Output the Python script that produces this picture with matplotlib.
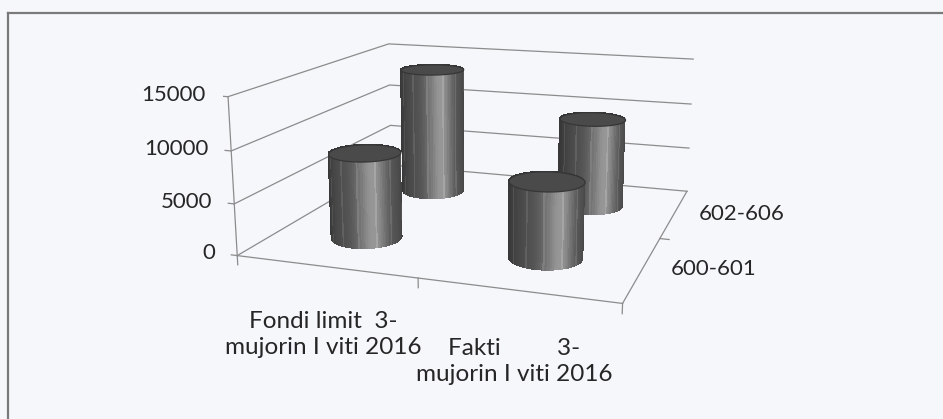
import numpy as np
import matplotlib
matplotlib.use('Agg')
import matplotlib.pyplot as plt
from matplotlib.lines import Line2D
from mpl_toolkits.mplot3d import proj3d
from mpl_toolkits.mplot3d.art3d import Poly3DCollection

W, H = 943, 419
categories = ["Fondi limit  3-\nmujorin I viti 2016", "Fakti         3-\nmujorin I viti 2016"]
series_names = ["600-601", "602-606"]
values_600_601 = [8500, 7300]
values_602_606 = [13800, 9500]
z_ticks = [0, 5000, 10000, 15000]

# view settings (3D perspective)
ELEV, AZIM, FOC = 13.72, -71.06, 0.389
BY, BZ = 0.976, 0.414
POS = [0.2366, 0.0215, 0.5382, 1.2113]

n_cat = len(categories)
n_ser = len(series_names)
XL = (-0.5, n_cat - 0.5)
YL = (-0.5, n_ser - 0.5)
ZL = (z_ticks[0], z_ticks[-1])

plt.rcParams['font.family'] = ['Lato', 'DejaVu Sans']
fig = plt.figure(figsize=(W / 100, H / 100), dpi=100, facecolor='#f6f7fb')
ax = fig.add_axes(POS, projection='3d', computed_zorder=False)
ax.set_xlim(*XL); ax.set_ylim(*YL); ax.set_zlim(*ZL)
ax.set_box_aspect((1, BY, BZ))
ax.view_init(ELEV, AZIM)
ax.set_proj_type('persp', focal_length=FOC)
ax.set_axis_off()
ax.patch.set_alpha(0)

M = ax.get_proj()


def to2d(x, y, z):
    xs, ys, _ = proj3d.proj_transform(np.atleast_1d(float(x)), np.atleast_1d(float(y)),
                                      np.atleast_1d(float(z)), M)
    return float(xs[0]), float(ys[0])


def text3(x, y, z, s, **kw):
    px, py = to2d(x, y, z)
    return ax.text2D(px, py, s, transform=ax.transData, **kw)


grid_c = '#8c8c8c'
txt_c = '#262626'
# wall gridlines, z axis ticks and labels
for z in z_ticks:
    ax.plot([XL[0], XL[0], XL[1]], [YL[0], YL[1], YL[1]], [z, z, z], color=grid_c, lw=0.9, zorder=1)
    ax.plot([XL[0], XL[0] - 0.035], [YL[0], YL[0]], [z, z], color=grid_c, lw=0.9, zorder=1)
    text3(XL[0] - 0.13, YL[0], z, f"{z}", ha='right', va='center', fontsize=16, color=txt_c)
# axis lines
ax.plot([XL[0], XL[0]], [YL[0], YL[0]], [0, ZL[1]], color=grid_c, lw=0.9, zorder=1)
ax.plot([XL[0], XL[1]], [YL[0], YL[0]], [0, 0], color=grid_c, lw=0.9, zorder=1)
ax.plot([XL[1], XL[1]], [YL[0], YL[1]], [0, 0], color=grid_c, lw=0.9, zorder=1)
for xt in np.arange(XL[0], XL[1] + 0.01, 1.0):
    ax.plot([xt, xt], [YL[0], YL[0]], [0, -900], color=grid_c, lw=0.9, zorder=1)
for yt in np.arange(YL[0] + 1, YL[1] - 0.01, 1.0):
    ax.plot([XL[1], XL[1] + 0.05], [yt, yt], [0, 0], color=grid_c, lw=0.9, zorder=1)

xs_cat = np.arange(n_cat)
for i, lab in enumerate(categories):
    text3(xs_cat[i], YL[0] - 0.04, -4050, lab, ha='center', va='top', fontsize=17.5,
          color=txt_c, multialignment='center', linespacing=1.28)
for j, nm in enumerate(series_names):
    text3(XL[1] + 0.14, j, 200, nm, ha='left', va='center', fontsize=16, color=txt_c)

# cylinders
rb = 0.095
rx = rb * (XL[1] - XL[0])
ry = rb * (YL[1] - YL[0]) / BY
th = np.linspace(0, 2 * np.pi, 121)
az = np.deg2rad(AZIM)
c = np.clip(np.cos(th - az - np.deg2rad(15)), 0, None)
inten = 0.22 + 0.13 * c + 0.24 * c ** 14
stripe = (np.arange(th.size) % 9 == 4) * 0.07
inten = np.clip(inten + stripe * (c > 0.2), 0, 1)


def draw_cyl(cx, cy, v, zo):
    X = np.vstack([cx + rx * np.cos(th)] * 2)
    Y = np.vstack([cy + ry * np.sin(th)] * 2)
    Z = np.vstack([np.zeros_like(th), np.full_like(th, v)])
    fc = np.zeros(X.shape + (4,))
    fc[..., 0] = inten; fc[..., 1] = inten; fc[..., 2] = inten; fc[..., 3] = 1
    sf = ax.plot_surface(X, Y, Z, facecolors=fc, shade=False, linewidth=0, antialiased=False,
                         rstride=1, cstride=1)
    sf.set_zorder(zo)
    verts = [list(zip(cx + rx * np.cos(th), cy + ry * np.sin(th), np.full_like(th, v)))]
    cap = Poly3DCollection(verts, facecolor='#4a4a4a', edgecolor='#363636', linewidth=0.9)
    cap.set_zorder(zo + 0.5)
    ax.add_collection3d(cap)


series_vals = [values_600_601, values_602_606]
order = [(j, i) for j in range(n_ser - 1, -1, -1) for i in range(n_cat)]
for k, (j, i) in enumerate(order):
    draw_cyl(xs_cat[i], j, series_vals[j][i], 2 + k)

# chart area frame
fig.add_artist(Line2D([8 / W, 8 / W], [0, 1 - 13 / H], transform=fig.transFigure, color='#7a7a7a', lw=1.6))
fig.add_artist(Line2D([8 / W, 1], [1 - 13 / H, 1 - 13 / H], transform=fig.transFigure, color='#7a7a7a', lw=1.6))

fig.savefig('out.png', dpi=100, facecolor=fig.get_facecolor())
